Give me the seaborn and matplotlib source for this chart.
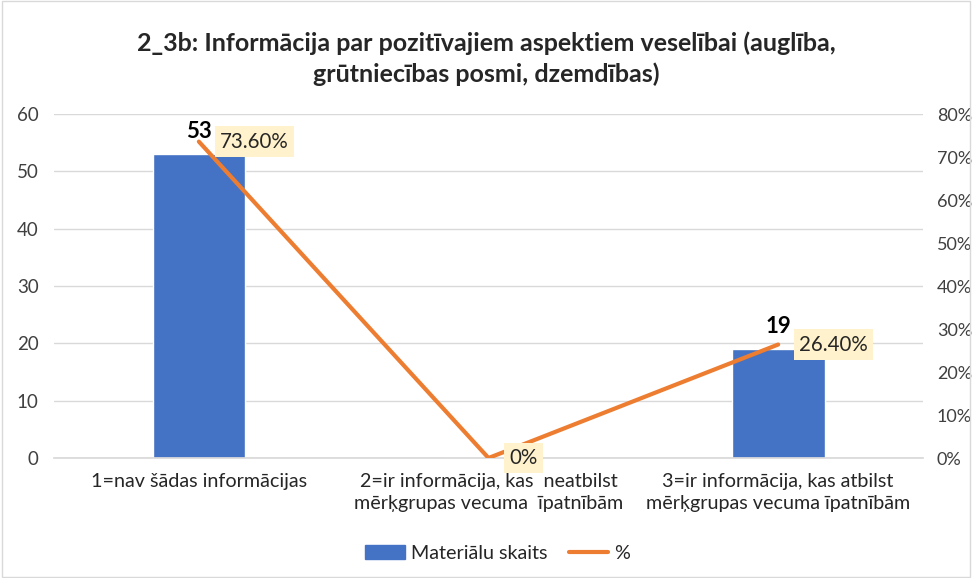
import matplotlib
matplotlib.use("Agg")
import matplotlib.pyplot as plt
import matplotlib.ticker as mticker
from matplotlib.patches import Rectangle
from matplotlib.lines import Line2D
from matplotlib.patches import Patch
import seaborn as sns
import pandas as pd

categories = ["1=nav šādas informācijas",
              "2=ir informācija, kas  neatbilst\nmērķgrupas vecuma  īpatnībām",
              "3=ir informācija, kas atbilst\nmērķgrupas vecuma īpatnībām"]
counts = [53, 0, 19]
percents = [0.736, 0.0, 0.264]
count_labels = ["53", "", "19"]
pct_labels = ["73.60%", "0%", "26.40%"]
title = "2_3b: Informācija par pozitīvajiem aspektiem veselībai (auglība,\ngrūtniecības posmi, dzemdības)"

sns.set_theme(style="white")
plt.rcParams['font.family'] = ['Lato', 'DejaVu Sans']

BLUE = "#4472C4"
ORANGE = "#ED7D31"

fig = plt.figure(figsize=(9.72, 5.78), dpi=100)
ax = fig.add_axes([0.0556, 0.2076, 0.894, 0.595])
df = pd.DataFrame({"cat": categories, "count": counts})
sns.barplot(data=df, x="cat", y="count", color=BLUE, width=0.32, ax=ax, saturation=1)
ax.set_ylim(0, 60)
ax.set_yticks(range(0, 61, 10))
ax.set_xlim(-0.5, 2.5)
ax.set_xlabel("")
ax.set_ylabel("")
ax.yaxis.grid(True, color="#D9D9D9", linewidth=1)
ax.set_axisbelow(True)
for s in ["top", "left", "right"]:
    ax.spines[s].set_visible(False)
ax.spines["bottom"].set_color("#D9D9D9")
ax.tick_params(axis="both", length=0, labelsize=13.5, colors="#404040")
ax.tick_params(axis="x", pad=11)
ax.tick_params(axis="y", pad=11)
for t in ax.get_xticklabels():
    t.set_fontsize(14.2)
    t.set_color("#262626")
    t.set_linespacing(1.35)

ax2 = ax.twinx()
xs = list(range(len(categories)))
sns.lineplot(x=xs, y=percents, color=ORANGE, linewidth=3, ax=ax2)
ax2.set_ylim(0, 0.8)
ax2.set_yticks([i / 10 for i in range(9)])
ax2.yaxis.set_major_formatter(mticker.PercentFormatter(1.0, decimals=0))
ax2.tick_params(axis="y", length=0, labelsize=13, colors="#404040", pad=10)
for s in ax2.spines.values():
    s.set_visible(False)
ax2.set_xlim(-0.5, 2.5)

# count labels
for x, c, lab in zip(xs, counts, count_labels):
    if lab:
        ax.annotate(lab, (x, c), xytext=(0, 9), textcoords="offset points",
                    ha="center", va="bottom", fontsize=16, fontweight="bold", color="black")
# percent labels
for x, p, lab in zip(xs, percents, pct_labels):
    ax2.annotate(lab, (x, p), xytext=(15, 0), textcoords="offset points",
                 ha="left", va="center", fontsize=14.8, color="#262626",
                 bbox=dict(boxstyle="square,pad=0.25", fc="#FFF2CC", ec="none"))

fig.suptitle(title, fontsize=18, fontweight="bold", color="#262626", y=0.945, linespacing=1.35)

handles = [Patch(color=BLUE, label="Materiālu skaits"),
           Line2D([0], [0], color=ORANGE, linewidth=3, label="%")]
fig.legend(handles=handles, loc="center", bbox_to_anchor=(0.512, 0.043), ncol=2,
           frameon=False, fontsize=14.2, handlelength=2.0, handletextpad=0.3,
           columnspacing=1.1)

fig.patches.append(Rectangle((0.002, 0.002), 0.996, 0.996, transform=fig.transFigure,
                             fill=False, ec="#D9D9D9", lw=1))
fig.savefig("out.png", dpi=100)
